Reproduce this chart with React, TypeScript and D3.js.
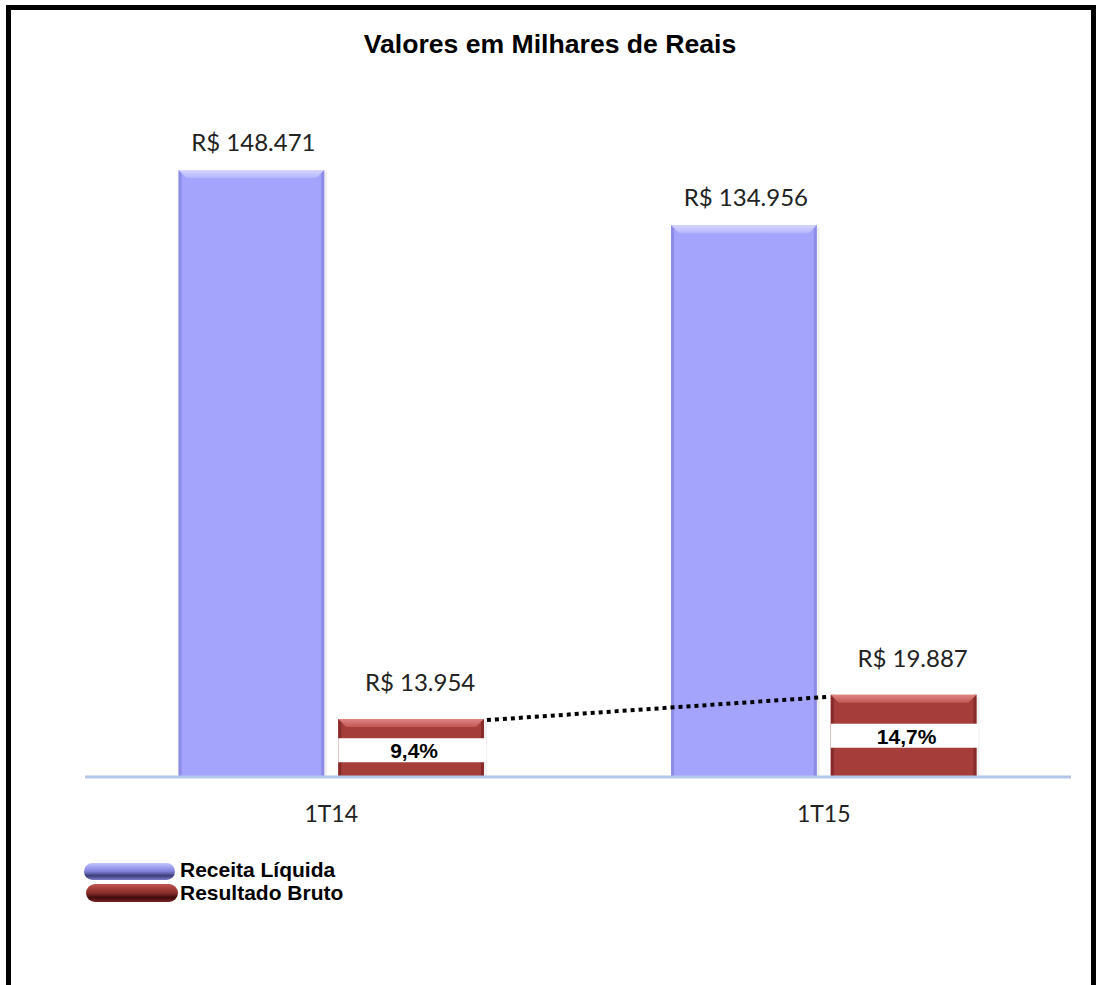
import React, { useEffect, useRef } from 'react';
import * as d3 from 'd3';

const categories = ['1T14', '1T15'];
const receitaLiquida = [148471, 134956];
const resultadoBruto = [13954, 19887];
const margemBruta = [9.4, 14.7];
const seriesNames = ['Receita Líquida', 'Resultado Bruto'];

const W = 1096;
const H = 985;
const baseY = 776;

const brl = d3.formatLocale({ decimal: ',', thousands: '.', grouping: [3], currency: ['R$ ', ''] });
const fmtMoney = (v: number) => 'R$ ' + brl.format(',d')(v);
const fmtPct = (v: number) => brl.format('.1f')(v) + '%';

const palette = {
  blue: { main: '#a4a4fc', top: '#c9c9ff', edge: '#8c8ce6' },
  red: { main: '#a53d3b', top: '#d26a67', edge: '#862b2a' },
};

function App() {
  const ref = useRef<SVGSVGElement>(null);

  useEffect(() => {
    const svg = d3.select(ref.current);
    svg.selectAll('*').remove();

    const defs = svg.append('defs');
    const grad = (id: string, stops: string[]) => {
      const g = defs.append('linearGradient').attr('id', id).attr('x1', 0).attr('y1', 0).attr('x2', 0).attr('y2', 1);
      stops.forEach((c, i) => g.append('stop').attr('offset', `${(i / (stops.length - 1)) * 100}%`).attr('stop-color', c));
    };
    grad('pillBlue', ['#c4c4ff', '#a0a0f4', '#8080d8', '#3c3c78', '#7c7cc8']);
    grad('pillRed', ['#c45854', '#a3403d', '#8a2c2a', '#3e0c0c', '#7e2424']);
    grad('bevelBlue', ['#d6d6ff', '#b4b4fe']);
    grad('bevelRed', ['#e08582', '#bf5754']);

    svg.append('rect').attr('x', 0).attr('y', 0).attr('width', W).attr('height', H).attr('fill', '#fff');
    svg.append('rect')
      .attr('x', 8.5).attr('y', 7.5).attr('width', 1085).attr('height', 1000)
      .attr('fill', 'none').attr('stroke', '#000').attr('stroke-width', 5);

    svg.append('text')
      .attr('x', 550).attr('y', 53)
      .attr('text-anchor', 'middle')
      .style('font-family', '"Liberation Sans", Arial, sans-serif')
      .style('font-weight', 'bold').style('font-size', '26.6px')
      .text('Valores em Milhares de Reais');

    const x0 = d3.scaleBand<string>().domain(categories).range([85, 1070]).paddingInner(0.38).paddingOuter(0.19);
    const x1 = d3.scaleBand<number>().domain([0, 1]).range([0, x0.bandwidth()]).paddingInner(0.088);
    const y = d3.scaleLinear().domain([0, 160000]).range([baseY, 123]);
    const y2 = d3.scaleLinear().domain([0, 100]).range([baseY, 502]);
    const bw = x1.bandwidth();

    const drawBar = (x: number, top: number, c: { main: string; top: string; edge: string }, bevel: string) => {
      const g = svg.append('g');
      const h = baseY - top;
      const b = Math.min(8, h / 3);
      g.append('rect').attr('x', x + 3).attr('y', top + 2).attr('width', bw).attr('height', h - 2).attr('fill', '#000').attr('opacity', 0.06);
      g.append('rect').attr('x', x).attr('y', top).attr('width', bw).attr('height', h).attr('fill', c.main);
      g.append('rect').attr('x', x).attr('y', top).attr('width', 3).attr('height', h).attr('fill', c.edge);
      g.append('rect').attr('x', x + bw - 3).attr('y', top).attr('width', 3).attr('height', h).attr('fill', c.edge);
      g.append('polygon')
        .attr('points', [[x, top], [x + bw, top], [x + bw - b, top + b], [x + b, top + b]].map(p => p.join(',')).join(' '))
        .attr('fill', bevel);
    };

    const valueFont = 'Lato, "Open Sans", sans-serif';

    categories.forEach((cat, i) => {
      const xb = x0(cat)! + x1(0)!;
      const xr = x0(cat)! + x1(1)!;
      drawBar(xb, y(receitaLiquida[i]), palette.blue, 'url(#bevelBlue)');
      drawBar(xr, y(resultadoBruto[i]), palette.red, 'url(#bevelRed)');

      svg.append('text')
        .attr('x', xb + bw / 2 + 2).attr('y', y(receitaLiquida[i]) - 19)
        .attr('text-anchor', 'middle')
        .style('font-family', valueFont).style('font-size', '24px').attr('fill', '#222')
        .text(fmtMoney(receitaLiquida[i]));
      svg.append('text')
        .attr('x', xr + bw / 2 + 9).attr('y', y(resultadoBruto[i]) - 28)
        .attr('text-anchor', 'middle')
        .style('font-family', valueFont).style('font-size', '24px').attr('fill', '#222')
        .text(fmtMoney(resultadoBruto[i]));
    });

    // baseline
    svg.append('line')
      .attr('x1', 85).attr('x2', 1071).attr('y1', baseY + 1).attr('y2', baseY + 1)
      .attr('stroke', '#b3c6e8').attr('stroke-width', 3);

    // dotted connector between gross result bars
    const a = categories[0];
    const bcat = categories[1];
    svg.append('line')
      .attr('x1', x0(a)! + x1(1)! + bw + 3).attr('y1', y(resultadoBruto[0]) + 1)
      .attr('x2', x0(bcat)! + x1(1)! - 2).attr('y2', y(resultadoBruto[1]) + 2)
      .attr('stroke', '#000').attr('stroke-width', 4).attr('stroke-dasharray', '4,4');

    // margin labels
    categories.forEach((cat, i) => {
      const xr = x0(cat)! + x1(1)!;
      const cy = y2(margemBruta[i]);
      svg.append('rect').attr('x', xr).attr('y', cy - 12).attr('width', bw + 2).attr('height', 24).attr('fill', '#fff');
      svg.append('text')
        .attr('x', xr + bw / 2 + 3).attr('y', cy + 8)
        .attr('text-anchor', 'middle')
        .style('font-family', '"Liberation Sans", Arial, sans-serif')
        .style('font-weight', 'bold').style('font-size', '21px')
        .text(fmtPct(margemBruta[i]));
    });

    // category axis labels
    categories.forEach(cat => {
      svg.append('text')
        .attr('x', x0(cat)! + x0.bandwidth() / 2).attr('y', 822)
        .attr('text-anchor', 'middle')
        .style('font-family', valueFont).style('font-size', '23px').attr('fill', '#222')
        .text(cat);
    });

    // legend
    const legend = svg.append('g');
    const pills = [
      { x: 84, y: 863, w: 91, h: 17, fill: 'url(#pillBlue)' },
      { x: 86, y: 884, w: 92, h: 18, fill: 'url(#pillRed)' },
    ];
    seriesNames.forEach((name, i) => {
      const p = pills[i];
      legend.append('rect')
        .attr('x', p.x).attr('y', p.y).attr('width', p.w).attr('height', p.h)
        .attr('rx', p.h / 2).attr('fill', p.fill);
      legend.append('text')
        .attr('x', 180).attr('y', 877 + i * 23)
        .style('font-family', '"Liberation Sans", Arial, sans-serif')
        .style('font-weight', 'bold').style('font-size', '21px')
        .text(name);
    });
  }, []);

  return (
    <svg ref={ref} width={W} height={H} style={{ position: 'absolute', left: 0, top: 0 }} />
  );
}

export default App;
